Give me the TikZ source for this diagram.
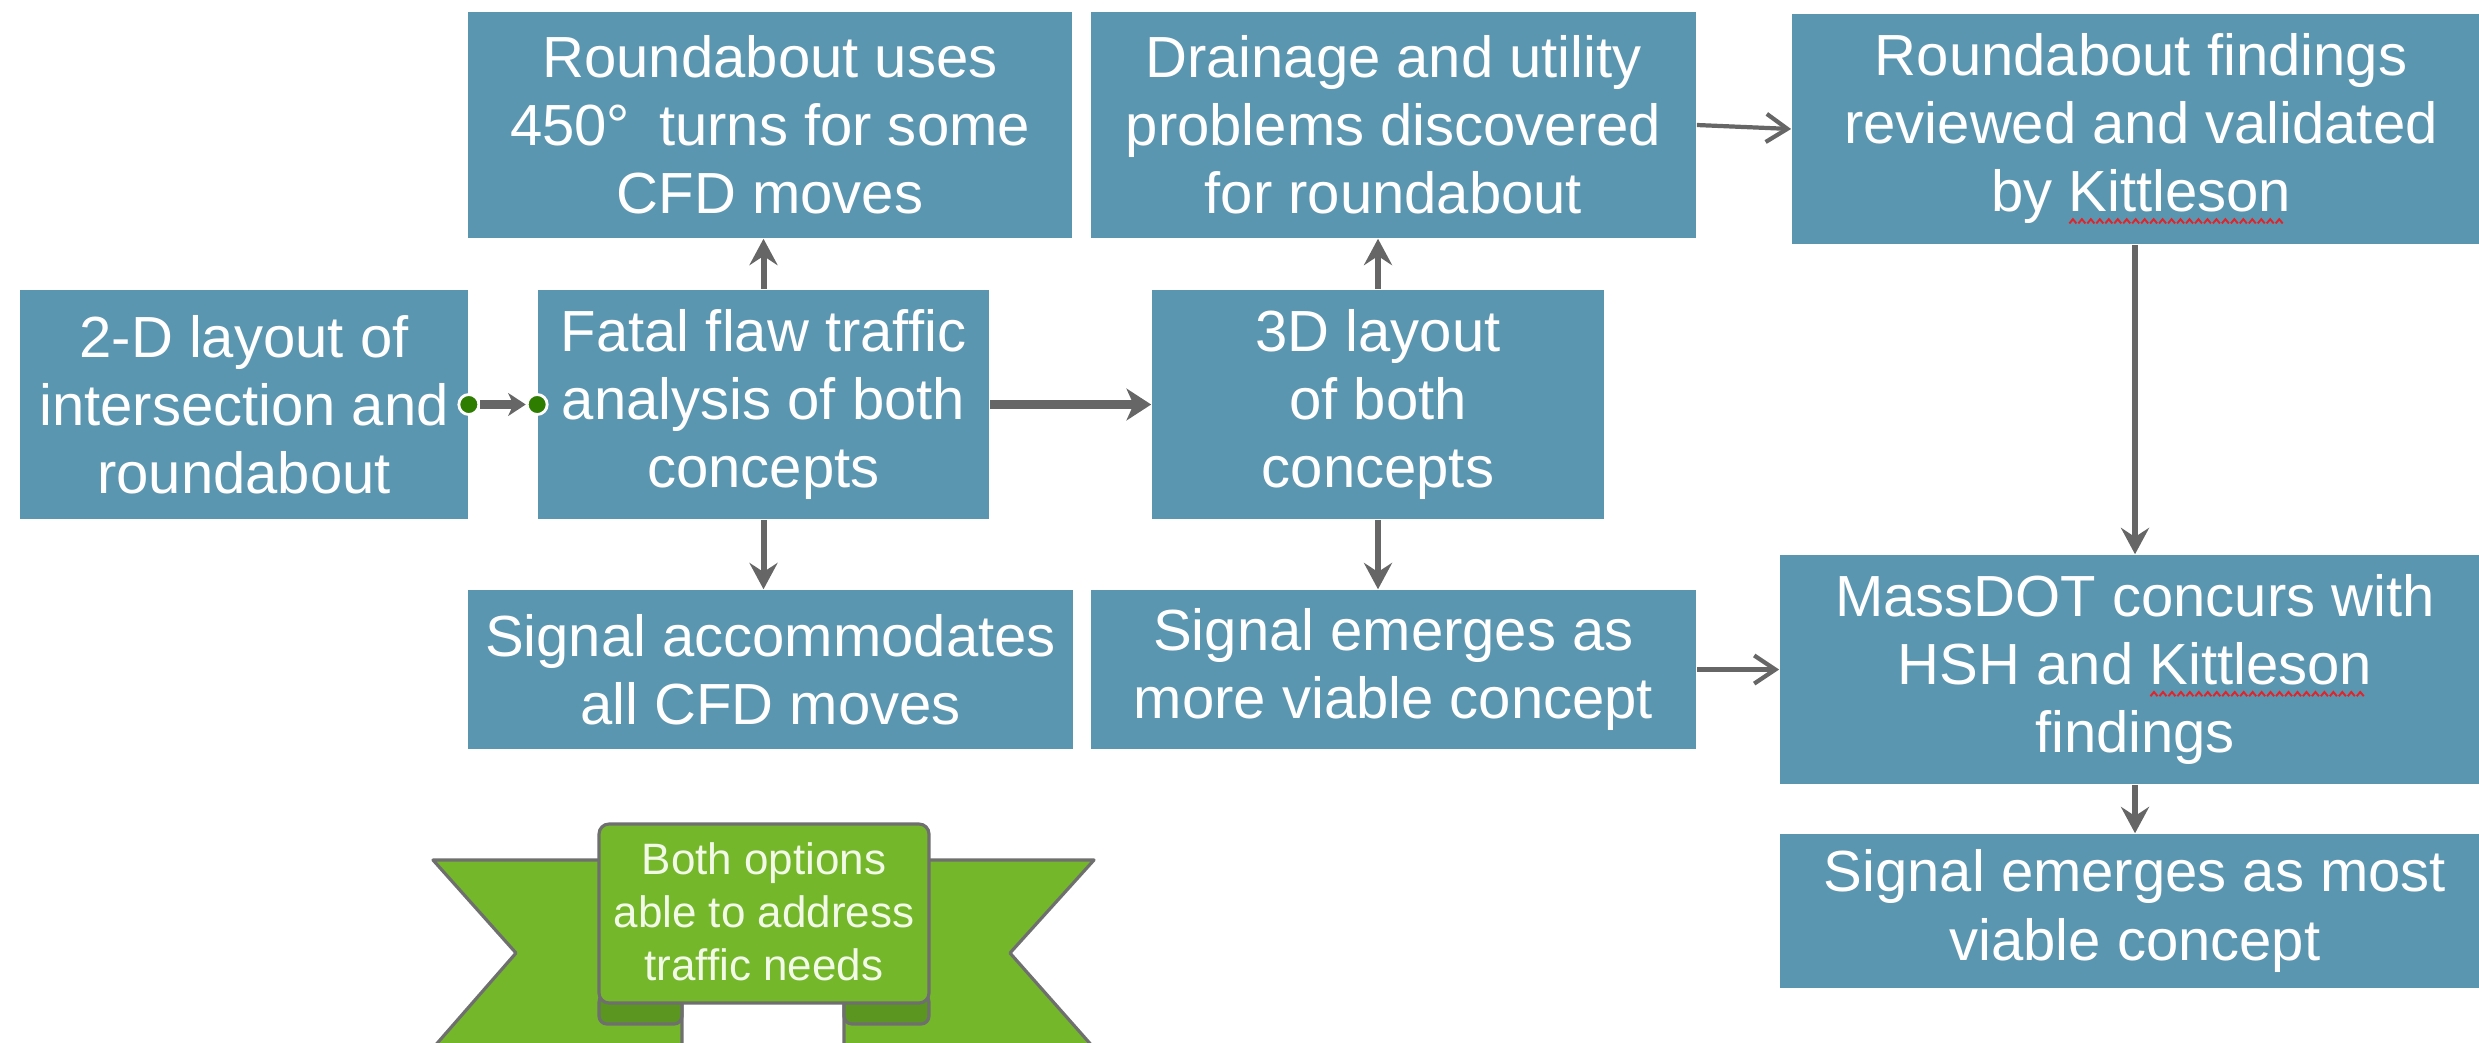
\documentclass[tikz,border=0pt]{standalone}
\usepackage{fontspec}
\setmainfont{Liberation Sans}
\usetikzlibrary{arrows.meta}

\definecolor{boxblue}{HTML}{5B96B0}
\definecolor{linegrey}{HTML}{666666}
\definecolor{dotgreen}{HTML}{2E7D00}
\definecolor{ribbongreen}{HTML}{75B72A}
\definecolor{folddark}{HTML}{5A9620}
\definecolor{ribbonedge}{HTML}{6F6F6F}
\definecolor{ribbontxt}{HTML}{F2F9E6}
\definecolor{squigred}{HTML}{E2232A}

% red wavy spell-check underline under a word
\newcommand\spellmark[1]{\setbox0=\hbox{#1}\rlap{\raisebox{-3.6pt}{\leaders\hbox{\tikz[x=1pt,y=1pt]\draw[squigred,line width=0.55pt] (0,0)--(1,1.2)--(2,0);}\hskip\wd0}}\box0}

\begin{document}
\begin{tikzpicture}[x=0.01cm,y=-0.01cm,
  flow/.style={fill=boxblue,text=white,align=center,inner sep=0pt,
    font=\fontsize{16.5pt}{19.35pt}\selectfont},
  link/.style={draw=linegrey,line width=1.7pt,
    -{Stealth[length=7.5pt,width=8pt,inset=2.6pt]}},
  mainlink/.style={draw=linegrey,line width=2.6pt,
    -{Stealth[length=7pt,width=9pt,inset=2pt]}},
  barblink/.style={draw=linegrey,line width=1.2pt,
    -{Straight Barb[length=6pt,width=8pt]}},
  gdot/.style={circle,fill=dotgreen,draw=white,line width=0.8pt,
    minimum size=0.2cm,inner sep=0pt},
  ribbontext/.style={text=ribbontxt,align=center,inner sep=0pt,
    font=\fontsize{12.5pt}{15.1pt}\selectfont}]

\useasboundingbox (0,0) rectangle (2479,1042);
\clip (0,0) rectangle (2479,1042);

% process boxes
\node[flow,minimum width=4.48cm,minimum height=2.29cm] (lay2d) at (244,404.5)
  {2-D layout of\\intersection and\\roundabout};
\node[flow,minimum width=4.51cm,minimum height=2.29cm] (fatal) at (763.5,404.5)
  {Fatal flaw traffic\\analysis of both\\concepts};
\node[flow,minimum width=6.04cm,minimum height=2.26cm] (turns) at (770,125)
  {Roundabout uses\\450°\hspace{0.5em}turns for some\\CFD moves};
\node[flow,minimum width=6.05cm,minimum height=1.59cm] (sigacc) at (770.5,669.5)
  {Signal accommodates\\all CFD moves};
\node[flow,minimum width=4.52cm,minimum height=2.29cm] (lay3d) at (1378,404.5)
  {3D layout\\of both\\concepts};
\node[flow,minimum width=6.05cm,minimum height=2.26cm] (drain) at (1393.5,125)
  {Drainage and utility\\problems discovered\\for roundabout};
\node[flow,minimum width=6.05cm,minimum height=1.59cm] (sigmore) at (1393.5,669.5)
  {Signal emerges as\\more viable concept};
\node[flow,minimum width=6.98cm,minimum height=2.30cm] (review) at (2141,129)
  {Roundabout findings\\reviewed and validated\\by \spellmark{Kittleson}};
\node[flow,minimum width=7.10cm,minimum height=2.29cm] (concur) at (2135,669.5)
  {MassDOT concurs with\\HSH and \spellmark{Kittleson}\\findings};
\node[flow,minimum width=7.10cm,minimum height=1.54cm] (sigmost) at (2135,911)
  {Signal emerges as most\\viable concept};

% connector with green end points
\node[gdot] (dotA) at (lay2d.east) {};
\node[gdot] (dotB) at (fatal.west) {};
\draw[draw=linegrey,line width=2.3pt,-{Stealth[length=5pt,width=6.5pt,inset=1.5pt]}]
  (dotA) -- (dotB);

% flow arrows
\draw[link] (fatal.north) -- (fatal.north |- turns.south);
\draw[link] (fatal.south) -- (fatal.south |- sigacc.north);
\draw[mainlink] (fatal.east) -- (lay3d.west);
\draw[link] (lay3d.north) -- (lay3d.north |- drain.south);
\draw[link] (lay3d.south) -- (lay3d.south |- sigmore.north);
\draw[barblink] (drain.east) -- (review.west);
\draw[barblink] (sigmore.east) -- (sigmore.east -| concur.west);
\draw[link] (concur.north |- review.south) -- (concur.north);
\draw[link] (concur.south) -- (sigmost.north);

% banner ribbon
\begin{scope}[draw=ribbonedge,line width=0.9pt,line join=round]
  \filldraw[fill=ribbongreen] (433,860) -- (682,860) -- (682,1048)
    -- (433,1048) -- (516,953) -- cycle;
  \filldraw[fill=ribbongreen] (1094,860) -- (844,860) -- (844,1048)
    -- (1094,1048) -- (1010,953) -- cycle;
  \filldraw[fill=folddark,rounded corners=0.08cm] (599,994) rectangle (682,1024);
  \filldraw[fill=folddark,rounded corners=0.08cm] (844,994) rectangle (929,1024);
  \filldraw[fill=ribbongreen,rounded corners=0.1cm] (599,824) rectangle (929,1003);
\end{scope}
\node[ribbontext] (banner) at (764,912) {Both options\\able to address\\traffic needs};

\end{tikzpicture}
\end{document}
